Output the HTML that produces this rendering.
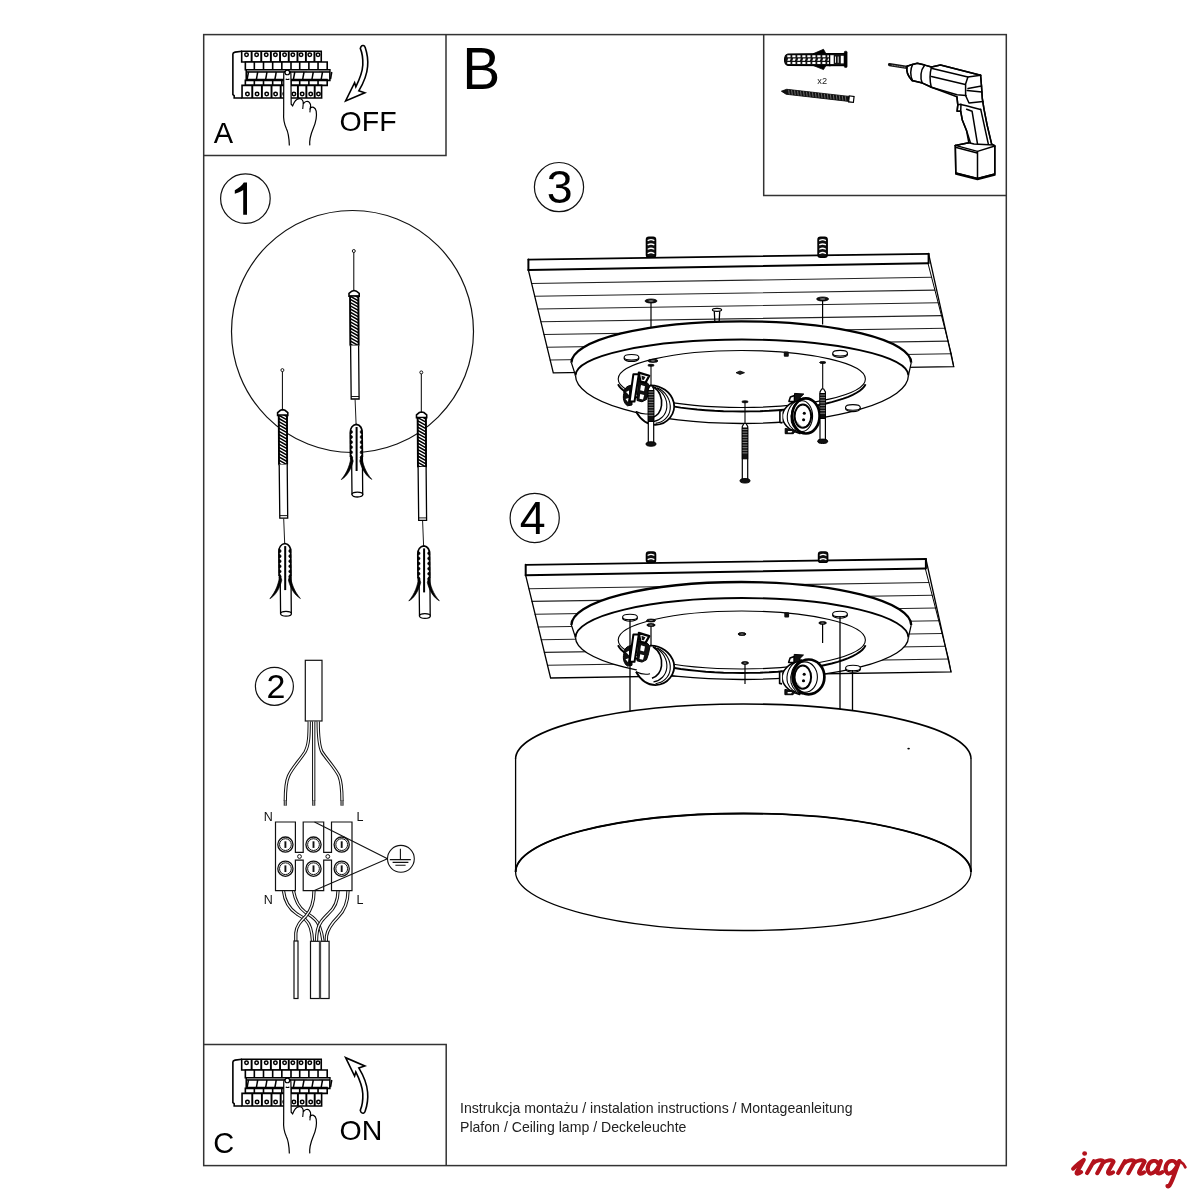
<!DOCTYPE html>
<html><head><meta charset="utf-8"><title>Ceiling lamp instructions</title>
<style>
html,body{margin:0;padding:0;background:#fff;width:1200px;height:1200px;overflow:hidden}
svg{display:block;will-change:transform}
text{font-family:"Liberation Sans",sans-serif}
</style></head><body>
<svg width="1200" height="1200" viewBox="0 0 1200 1200">
<rect x="0" y="0" width="1200" height="1200" fill="#fff"/>
<g fill="none" stroke="#333" stroke-width="1.5">
<rect x="203.7" y="34.6" width="802.6" height="1131"/>
<polyline points="203.7,155.6 446,155.6 446,34.6"/>
<polyline points="203.7,1044.6 446.2,1044.6 446.2,1165.6"/>
<polyline points="763.7,34.6 763.7,195.4 1006.3,195.4"/>
</g>
<g fill="#000">
<text x="213.8" y="142.7" font-size="29">A</text>
<text x="339.6" y="131" font-size="28.5">OFF</text>
<text transform="translate(462.3,88.7) scale(0.965,1)" font-size="59">B</text>
<text x="213.2" y="1152.6" font-size="29">C</text>
<text x="339.6" y="1139.6" font-size="28.5">ON</text>
</g>
<g fill="none" stroke="#111" stroke-width="1.2">
<circle cx="245.4" cy="198.6" r="24.8"/>
<circle cx="559" cy="187.1" r="24.6"/>
<circle cx="534.7" cy="518" r="24.6"/>
<circle cx="274.4" cy="686.3" r="19"/>
</g>
<g fill="#000" text-anchor="middle">
<text x="559.7" y="203.4" font-size="46.5">3</text>
<text x="532.6" y="533.5" font-size="46.5">4</text>
<text x="275.9" y="697.8" font-size="34">2</text>
<path d="M247,182.6 L247,214.8 L243.2,214.8 L243.2,190 C240.5,191.8 237.8,193 234.8,193.8 L234.8,190.2 C238.6,188.4 242,185.5 243.8,182.6 Z"/>
</g>
<g fill="#222" font-size="14.1">
<text x="460" y="1112.5">Instrukcja montażu / instalation instructions / Montageanleitung</text>
<text x="460" y="1131.7">Plafon / Ceiling lamp / Deckeleuchte</text>
</g>
<g transform="translate(225,40) scale(0.091667)"><g id="brk" fill="none" stroke="#000" stroke-width="1.6" vector-effect="non-scaling-stroke">
<path vector-effect="non-scaling-stroke" d="M185,122 L110,132 Q86,137 86,152 L86,596 L100,608 L100,632 L185,632" fill="#fff"/>
<rect vector-effect="non-scaling-stroke" x="182" y="122" width="868" height="118" fill="#fff"/>
<path vector-effect="non-scaling-stroke" d="M286,122 V240 M295,122 V240" stroke-width="1.1"/>
<path vector-effect="non-scaling-stroke" d="M391,122 V240 M400,122 V240" stroke-width="1.1"/>
<path vector-effect="non-scaling-stroke" d="M496,122 V240 M505,122 V240" stroke-width="1.1"/>
<path vector-effect="non-scaling-stroke" d="M596,122 V240 M605,122 V240" stroke-width="1.1"/>
<path vector-effect="non-scaling-stroke" d="M691,122 V240 M700,122 V240" stroke-width="1.1"/>
<path vector-effect="non-scaling-stroke" d="M786,122 V240 M795,122 V240" stroke-width="1.1"/>
<path vector-effect="non-scaling-stroke" d="M878,122 V240 M887,122 V240" stroke-width="1.1"/>
<path vector-effect="non-scaling-stroke" d="M971,122 V240 M980,122 V240" stroke-width="1.1"/>
<circle vector-effect="non-scaling-stroke" cx="235" cy="160" r="19" stroke-width="1.5"/>
<circle vector-effect="non-scaling-stroke" cx="345" cy="160" r="19" stroke-width="1.5"/>
<circle vector-effect="non-scaling-stroke" cx="450" cy="160" r="19" stroke-width="1.5"/>
<circle vector-effect="non-scaling-stroke" cx="550" cy="160" r="19" stroke-width="1.5"/>
<circle vector-effect="non-scaling-stroke" cx="650" cy="160" r="19" stroke-width="1.5"/>
<circle vector-effect="non-scaling-stroke" cx="740" cy="160" r="19" stroke-width="1.5"/>
<circle vector-effect="non-scaling-stroke" cx="830" cy="160" r="19" stroke-width="1.5"/>
<circle vector-effect="non-scaling-stroke" cx="925" cy="160" r="19" stroke-width="1.5"/>
<circle vector-effect="non-scaling-stroke" cx="1015" cy="160" r="19" stroke-width="1.5"/>
<rect vector-effect="non-scaling-stroke" x="222" y="240" width="893" height="85" fill="#fff"/>
<path vector-effect="non-scaling-stroke" d="M320,240 V325"/>
<path vector-effect="non-scaling-stroke" d="M420,240 V325"/>
<path vector-effect="non-scaling-stroke" d="M520,240 V325"/>
<path vector-effect="non-scaling-stroke" d="M620,240 V325"/>
<path vector-effect="non-scaling-stroke" d="M720,240 V325"/>
<path vector-effect="non-scaling-stroke" d="M815,240 V325"/>
<path vector-effect="non-scaling-stroke" d="M915,240 V325"/>
<path vector-effect="non-scaling-stroke" d="M1015,240 V325"/>
<rect vector-effect="non-scaling-stroke" x="232" y="325" width="912" height="115" fill="#fff"/>
<path d="M240,337 H1140" stroke-width="1.2" stroke="#777" stroke-dasharray="60 12" vector-effect="non-scaling-stroke"/>
<path d="M232,349 H1144" stroke-width="1.5" vector-effect="non-scaling-stroke"/>
<path d="M232,433 H1120" stroke-width="2" vector-effect="non-scaling-stroke"/>
<path vector-effect="non-scaling-stroke" d="M256,349 L242,426" stroke-width="1.5"/>
<path vector-effect="non-scaling-stroke" d="M357,349 L343,426" stroke-width="1.5"/>
<path vector-effect="non-scaling-stroke" d="M458,349 L444,426" stroke-width="1.5"/>
<path vector-effect="non-scaling-stroke" d="M559,349 L545,426" stroke-width="1.5"/>
<path vector-effect="non-scaling-stroke" d="M660,349 L646,426" stroke-width="1.5"/>
<path vector-effect="non-scaling-stroke" d="M761,349 L747,426" stroke-width="1.5"/>
<path vector-effect="non-scaling-stroke" d="M862,349 L848,426" stroke-width="1.5"/>
<path vector-effect="non-scaling-stroke" d="M963,349 L949,426" stroke-width="1.5"/>
<path vector-effect="non-scaling-stroke" d="M1064,349 L1050,426" stroke-width="1.5"/>
<path vector-effect="non-scaling-stroke" d="M1165,349 L1151,426" stroke-width="1.5"/>
<rect vector-effect="non-scaling-stroke" x="222" y="440" width="893" height="55" fill="#fff"/>
<path vector-effect="non-scaling-stroke" d="M320,440 V495"/>
<path vector-effect="non-scaling-stroke" d="M420,440 V495"/>
<path vector-effect="non-scaling-stroke" d="M520,440 V495"/>
<path vector-effect="non-scaling-stroke" d="M620,440 V495"/>
<path vector-effect="non-scaling-stroke" d="M720,440 V495"/>
<path vector-effect="non-scaling-stroke" d="M815,440 V495"/>
<path vector-effect="non-scaling-stroke" d="M915,440 V495"/>
<path vector-effect="non-scaling-stroke" d="M1015,440 V495"/>
<rect vector-effect="non-scaling-stroke" x="186" y="495" width="868" height="137" fill="#fff"/>
<path vector-effect="non-scaling-stroke" d="M293,495 V632 M302,495 V632" stroke-width="1.1"/>
<path vector-effect="non-scaling-stroke" d="M398,495 V632 M407,495 V632" stroke-width="1.1"/>
<path vector-effect="non-scaling-stroke" d="M503,495 V632 M512,495 V632" stroke-width="1.1"/>
<path vector-effect="non-scaling-stroke" d="M603,495 V632 M612,495 V632" stroke-width="1.1"/>
<path vector-effect="non-scaling-stroke" d="M698,495 V632 M707,495 V632" stroke-width="1.1"/>
<path vector-effect="non-scaling-stroke" d="M791,495 V632 M800,495 V632" stroke-width="1.1"/>
<path vector-effect="non-scaling-stroke" d="M883,495 V632 M892,495 V632" stroke-width="1.1"/>
<path vector-effect="non-scaling-stroke" d="M974,495 V632 M983,495 V632" stroke-width="1.1"/>
<circle vector-effect="non-scaling-stroke" cx="245" cy="590" r="19" stroke-width="1.5"/>
<circle vector-effect="non-scaling-stroke" cx="350" cy="590" r="19" stroke-width="1.5"/>
<circle vector-effect="non-scaling-stroke" cx="455" cy="590" r="19" stroke-width="1.5"/>
<circle vector-effect="non-scaling-stroke" cx="552" cy="590" r="19" stroke-width="1.5"/>
<circle vector-effect="non-scaling-stroke" cx="652" cy="590" r="19" stroke-width="1.5"/>
<circle vector-effect="non-scaling-stroke" cx="752" cy="590" r="19" stroke-width="1.5"/>
<circle vector-effect="non-scaling-stroke" cx="842" cy="590" r="19" stroke-width="1.5"/>
<circle vector-effect="non-scaling-stroke" cx="935" cy="590" r="19" stroke-width="1.5"/>
<circle vector-effect="non-scaling-stroke" cx="1020" cy="590" r="19" stroke-width="1.5"/>
<path d="M641,372 C641,330 719,330 719,372 L722,700 L738,718 C752,680 782,642 812,640 C842,638 858,668 853,700 C868,668 902,662 920,680 C936,696 936,720 931,742 C950,722 985,732 995,775 C1004,830 990,900 962,965 C938,1022 918,1080 925,1150 L702,1150 C700,1080 692,1010 668,962 C645,910 636,850 640,800 Z" fill="#fff" stroke="none"/>
<path vector-effect="non-scaling-stroke" stroke-width="1.2" d="M641,372 C641,330 719,330 719,372 L722,700 L738,718 C752,680 782,642 812,640 C842,638 858,668 853,700 C868,668 902,662 920,680 C936,696 936,720 931,742 C950,722 985,732 995,775 C1004,830 990,900 962,965 C938,1022 918,1080 925,1150 M702,1150 C700,1080 692,1010 668,962 C645,910 636,850 640,800 L641,372"/>
<circle vector-effect="non-scaling-stroke" cx="680" cy="354" r="25" stroke-width="1.2" fill="#fff"/>
<path vector-effect="non-scaling-stroke" d="M662,425 C675,432 690,432 703,425 M853,700 L848,752 M931,742 L926,790" stroke-width="1.1"/>
</g></g>
<g transform="translate(225,1048) scale(0.091667)"><use href="#brk"/></g>
<path d="M361,46.6 C362.3,44.8 364.6,45.2 365.2,47.6 C367.2,53.5 368.2,60 367.6,66.5 C367,74.5 363.8,82.5 358.8,90.8 L364.8,92.8 L345.6,101 L354.6,82.6 L355.8,86.8 C359.2,80 362.4,73 362.8,65 C363.1,57.5 361.6,51.5 360.3,48.4 Z" fill="#fff" stroke="#000" stroke-width="1.6" stroke-linejoin="miter"/>
<path d="M361,46.6 C362.3,44.8 364.6,45.2 365.2,47.6 C367.2,53.5 368.2,60 367.6,66.5 C367,74.5 363.8,82.5 358.8,90.8 L364.8,92.8 L345.6,101 L354.6,82.6 L355.8,86.8 C359.2,80 362.4,73 362.8,65 C363.1,57.5 361.6,51.5 360.3,48.4 Z" transform="translate(0,1158.7) scale(1,-1)" fill="#fff" stroke="#000" stroke-width="1.6"/>
<circle cx="352.5" cy="331.5" r="121" fill="none" stroke="#111" stroke-width="1.2"/>
<defs><clipPath id="bitclip"><path d="M-3.7,45 L-3.4,94.5 L4.8,94.5 L4.6,45 Z"/></clipPath><g id="bitplug"><circle cx="0" cy="0" r="1.5" fill="#fff" stroke="#000" stroke-width="0.9"/><path d="M0,1.5 V40" stroke="#000" stroke-width="1"/><path d="M-4.8,45.3 L-4.8,42.5 L-2,40.2 L0.3,39.6 L2.6,40.2 L5.4,42.5 L5.4,45.3 Z" fill="#fff" stroke="#000" stroke-width="1.6"/><path d="M-3.7,45 L-3.4,94.5 L4.8,94.5 L4.6,45 Z" fill="#fff" stroke="#000" stroke-width="1.3"/><path d="M-3.5,42.0 L4.6,46.6 M-3.5,45.2 L4.6,49.8 M-3.5,48.4 L4.6,53.0 M-3.5,51.6 L4.6,56.2 M-3.5,54.8 L4.6,59.4 M-3.5,58.0 L4.6,62.6 M-3.5,61.2 L4.6,65.8 M-3.5,64.4 L4.6,69.0 M-3.5,67.6 L4.6,72.2 M-3.5,70.8 L4.6,75.4 M-3.5,74.0 L4.6,78.6 M-3.5,77.2 L4.6,81.8 M-3.5,80.4 L4.6,85.0 M-3.5,83.6 L4.6,88.2 M-3.5,86.8 L4.6,91.4 M-3.5,90.0 L4.6,94.6 M-3.5,93.2 L4.6,97.8" stroke="#000" stroke-width="1.5" clip-path="url(#bitclip)"/><path d="M-3.7,45 L-3.4,94.5 M4.8,94.5 L4.6,45" stroke="#000" stroke-width="1.8"/><path d="M-3.2,94.5 L-2.6,148 L5.3,148 L4.8,94.5" fill="#fff" stroke="#000" stroke-width="1.3"/><path d="M-2.6,145.5 H5.3" stroke="#000" stroke-width="0.9"/><path d="M1.3,148.5 L2.3,173.5" stroke="#000" stroke-width="0.9"/><path d="M-3.5,182 C-3.8,177 -1,174 2.5,173.4 C6,174 8.5,177 8.3,182 L8.6,206 L-3.3,206 Z" fill="#fff" stroke="none"/><path d="M-3.3,206 L-3.5,182 C-3.8,177 -1,174 2.5,173.4 C6,174 8.5,177 8.3,182 L8.6,206" fill="none" stroke="#000" stroke-width="1.7"/><path d="M-3.4,179.2 a2.2,1.75 0 0 1 0,3.5 Z M8.5,179.2 a2.2,1.75 0 0 0 0,3.5 Z M-3.4,184.3 a2.2,1.75 0 0 1 0,3.5 Z M8.5,184.3 a2.2,1.75 0 0 0 0,3.5 Z M-3.4,189.4 a2.2,1.75 0 0 1 0,3.5 Z M8.5,189.4 a2.2,1.75 0 0 0 0,3.5 Z M-3.4,194.5 a2.2,1.75 0 0 1 0,3.5 Z M8.5,194.5 a2.2,1.75 0 0 0 0,3.5 Z M-3.4,199.6 a2.2,1.75 0 0 1 0,3.5 Z M8.5,199.6 a2.2,1.75 0 0 0 0,3.5 Z M-3.4,204.7 a2.2,1.75 0 0 1 0,3.5 Z M8.5,204.7 a2.2,1.75 0 0 0 0,3.5 Z" fill="#000" stroke="#000" stroke-width="0.6"/><path d="M-2.6,204 C-3.4,213 -6.5,221.5 -12.5,228.6 C-7.2,225.6 -2.8,219 -0.6,210 Z" fill="#000" stroke="#000" stroke-width="0.7"/><path d="M7.8,204 C8.6,213 12,221.5 18,228.4 C12.8,225.4 8.2,219 6,210 Z" fill="#000" stroke="#000" stroke-width="0.7"/><path d="M-2.2,206 L-1.8,243.8 M8.6,206 L8.9,243.8" stroke="#000" stroke-width="1.3"/><ellipse cx="3.6" cy="243.6" rx="5.4" ry="2.4" fill="#fff" stroke="#000" stroke-width="1.3"/><path d="M2.8,176 V220" stroke="#000" stroke-width="2"/></g></defs>
<use href="#bitplug" transform="translate(353.8,251)"/>
<use href="#bitplug" transform="translate(282.4,370.1)"/>
<use href="#bitplug" transform="translate(421.3,372.4)"/>
<rect x="305.3" y="660.3" width="16.7" height="60.7" fill="#fff" stroke="#111" stroke-width="1.2"/>
<path d="M309.2,721.5 C309.2,735 309,745 305,752 C300,760 292,768 288.5,776 C285.8,782 285.3,790 285.3,801" fill="none" stroke="#111" stroke-width="3.3"/><path d="M309.2,721.5 C309.2,735 309,745 305,752 C300,760 292,768 288.5,776 C285.8,782 285.3,790 285.3,801" fill="none" stroke="#fff" stroke-width="1.3"/>
<path d="M313.7,721.5 V801" fill="none" stroke="#111" stroke-width="3.3"/><path d="M313.7,721.5 V801" fill="none" stroke="#fff" stroke-width="1.3"/>
<path d="M318.2,721.5 C318.2,735 318.5,745 322,752 C326.5,759 335,768 339,776 C341.5,782 342,790 342,801" fill="none" stroke="#111" stroke-width="3.3"/><path d="M318.2,721.5 C318.2,735 318.5,745 322,752 C326.5,759 335,768 339,776 C341.5,782 342,790 342,801" fill="none" stroke="#fff" stroke-width="1.3"/>
<rect x="283.7" y="800.5" width="3.2" height="5.2" fill="#333"/><path d="M285.3,801 V805.5" stroke="#ddd" stroke-width="0.8"/>
<rect x="312.09999999999997" y="800.5" width="3.2" height="5.2" fill="#333"/><path d="M313.7,801 V805.5" stroke="#ddd" stroke-width="0.8"/>
<rect x="340.4" y="800.5" width="3.2" height="5.2" fill="#333"/><path d="M342,801 V805.5" stroke="#ddd" stroke-width="0.8"/>
<g fill="#111" font-size="12.5"><text x="263.8" y="821.3">N</text><text x="356.6" y="821.3">L</text><text x="263.8" y="903.6">N</text><text x="356.6" y="903.6">L</text></g>
<path d="M283.5,891 C284.5,900 288,908 297,914 C303,917.5 308,920 310.5,928 C312,933 312.3,937 312.5,941" fill="none" stroke="#111" stroke-width="3.3"/><path d="M283.5,891 C284.5,900 288,908 297,914 C303,917.5 308,920 310.5,928 C312,933 312.3,937 312.5,941" fill="none" stroke="#fff" stroke-width="1.3"/>
<path d="M293.5,891 C295,899 298,907 305,912 C310,915.5 316,918 319,925 C321,930 322.5,936 323,941" fill="none" stroke="#111" stroke-width="3.3"/><path d="M293.5,891 C295,899 298,907 305,912 C310,915.5 316,918 319,925 C321,930 322.5,936 323,941" fill="none" stroke="#fff" stroke-width="1.3"/>
<path d="M314,891 C314,900 312,909 306,916 C300,922 296.5,926 295.8,933 L295.8,941" fill="none" stroke="#111" stroke-width="3.3"/><path d="M314,891 C314,900 312,909 306,916 C300,922 296.5,926 295.8,933 L295.8,941" fill="none" stroke="#fff" stroke-width="1.3"/>
<path d="M338,891 C338,900 335,908 328,914 C323,919 319,923 317.5,930 C316.8,934 316.5,938 316.5,941" fill="none" stroke="#111" stroke-width="3.3"/><path d="M338,891 C338,900 335,908 328,914 C323,919 319,923 317.5,930 C316.8,934 316.5,938 316.5,941" fill="none" stroke="#fff" stroke-width="1.3"/>
<path d="M348,891 C348,902 345,910 338,917 C332,923 327.5,930 326.5,936 L326.3,941" fill="none" stroke="#111" stroke-width="3.3"/><path d="M348,891 C348,902 345,910 338,917 C332,923 327.5,930 326.5,936 L326.3,941" fill="none" stroke="#fff" stroke-width="1.3"/>
<g fill="none" stroke="#111" stroke-width="1.2"><path d="M275.5,822 H295.4 V852.4 H303.2 V822 H323.7 V852.4 H331.5 V822 H352 V890.7 H331.5 V860.2 H323.7 V890.7 H303.2 V860.2 H295.4 V890.7 H275.5 Z" fill="#fff"/><circle cx="285.4" cy="844.6" r="7.6" stroke-width="1.3"/><circle cx="285.4" cy="844.6" r="5.9" stroke-width="1"/><path d="M285.4,841.3000000000001 V847.9" stroke-width="1.9"/><circle cx="285.4" cy="868.7" r="7.6" stroke-width="1.3"/><circle cx="285.4" cy="868.7" r="5.9" stroke-width="1"/><path d="M285.4,865.4000000000001 V872.0" stroke-width="1.9"/><circle cx="313.5" cy="844.6" r="7.6" stroke-width="1.3"/><circle cx="313.5" cy="844.6" r="5.9" stroke-width="1"/><path d="M313.5,841.3000000000001 V847.9" stroke-width="1.9"/><circle cx="313.5" cy="868.7" r="7.6" stroke-width="1.3"/><circle cx="313.5" cy="868.7" r="5.9" stroke-width="1"/><path d="M313.5,865.4000000000001 V872.0" stroke-width="1.9"/><circle cx="341.7" cy="844.6" r="7.6" stroke-width="1.3"/><circle cx="341.7" cy="844.6" r="5.9" stroke-width="1"/><path d="M341.7,841.3000000000001 V847.9" stroke-width="1.9"/><circle cx="341.7" cy="868.7" r="7.6" stroke-width="1.3"/><circle cx="341.7" cy="868.7" r="5.9" stroke-width="1"/><path d="M341.7,865.4000000000001 V872.0" stroke-width="1.9"/><circle cx="299.5" cy="856.5" r="1.9" stroke-width="1"/><circle cx="327.8" cy="856.5" r="1.9" stroke-width="1"/><path d="M314.5,822 L387.5,858.8 L313.8,890.7" stroke-width="1.1"/><circle cx="400.9" cy="858.8" r="13.4" fill="#fff" stroke-width="1.1"/><path d="M400.4,848.8 V859.6 M389.8,859.6 H410.8 M392.6,862.4 H408.4 M395.4,865.2 H405.6" stroke-width="1.1"/></g>
<g fill="#fff" stroke="#111" stroke-width="1.2"><rect x="294" y="941" width="4" height="57.5"/><rect x="310.5" y="941.3" width="9" height="57.2"/><rect x="320.5" y="941.3" width="8.6" height="57.2"/><path d="M320,941.3 V998.5" stroke-width="1.6" stroke="#555"/></g>
<g stroke="#000">
<path d="M788,54 C783.5,55.2 783.3,64.2 788,65.4 L830,65.6 L830,53.6 Z" fill="#111" stroke-width="1.2"/>
<path d="M787.3,55.3 h3.2 v2 h-3.2 Z M787.3,61.9 h3.2 v2 h-3.2 Z M788.2,58.4 l2.6,0 l-0.9,2.4 l-2.6,0 Z M792.3,55.3 h3.2 v2 h-3.2 Z M792.3,61.9 h3.2 v2 h-3.2 Z M793.2,58.4 l2.6,0 l-0.9,2.4 l-2.6,0 Z M797.3,55.3 h3.2 v2 h-3.2 Z M797.3,61.9 h3.2 v2 h-3.2 Z M798.2,58.4 l2.6,0 l-0.9,2.4 l-2.6,0 Z M802.3,55.3 h3.2 v2 h-3.2 Z M802.3,61.9 h3.2 v2 h-3.2 Z M803.2,58.4 l2.6,0 l-0.9,2.4 l-2.6,0 Z M807.3,55.3 h3.2 v2 h-3.2 Z M807.3,61.9 h3.2 v2 h-3.2 Z M808.2,58.4 l2.6,0 l-0.9,2.4 l-2.6,0 Z M812.3,55.3 h3.2 v2 h-3.2 Z M812.3,61.9 h3.2 v2 h-3.2 Z M813.2,58.4 l2.6,0 l-0.9,2.4 l-2.6,0 Z M817.3,55.3 h3.2 v2 h-3.2 Z M817.3,61.9 h3.2 v2 h-3.2 Z M818.2,58.4 l2.6,0 l-0.9,2.4 l-2.6,0 Z M822.3,55.3 h3.2 v2 h-3.2 Z M822.3,61.9 h3.2 v2 h-3.2 Z M823.2,58.4 l2.6,0 l-0.9,2.4 l-2.6,0 Z M827.3,55.3 h3.2 v2 h-3.2 Z M827.3,61.9 h3.2 v2 h-3.2 Z M828.2,58.4 l2.6,0 l-0.9,2.4 l-2.6,0 Z" fill="#fff" stroke="none"/>
<path d="M813,53.8 L823.5,49.3 L826,53.8 Z M813,65.4 L823.5,69.6 L826,65.4 Z" fill="#000" stroke-width="0.8"/>
<rect x="829.5" y="53.6" width="15" height="12" fill="#111" stroke-width="1.2"/>
<rect x="830.3" y="55.2" width="3.4" height="8.8" fill="#fff" stroke="none"/>
<rect x="840.8" y="55.8" width="3" height="7.6" fill="#fff" stroke="none"/>
<path d="M835.5,56.5 V62.8 M838.2,56.5 V62.8" stroke="#fff" stroke-width="0.9"/>
<rect x="844.3" y="51.2" width="2.8" height="16.3" rx="1" fill="#000" stroke-width="0.6"/>
</g>
<text x="817.3" y="83.6" font-size="9.2" fill="#222">x2</text>
<g transform="translate(781.4,91.2) rotate(6.5)" stroke="#000">
<path d="M0,0 L5,-2.5 L68,-2.5 L68,2.5 L5,2.5 Z" fill="#111" stroke-width="0.8"/>
<path d="M7,-2.3 l1.2,4.6 M10,-2.3 l1.2,4.6 M13,-2.3 l1.2,4.6 M16,-2.3 l1.2,4.6 M19,-2.3 l1.2,4.6 M22,-2.3 l1.2,4.6 M25,-2.3 l1.2,4.6 M28,-2.3 l1.2,4.6 M31,-2.3 l1.2,4.6 M34,-2.3 l1.2,4.6 M37,-2.3 l1.2,4.6 M40,-2.3 l1.2,4.6 M43,-2.3 l1.2,4.6 M46,-2.3 l1.2,4.6 M49,-2.3 l1.2,4.6 M52,-2.3 l1.2,4.6 M55,-2.3 l1.2,4.6 M58,-2.3 l1.2,4.6 M61,-2.3 l1.2,4.6 M64,-2.3 l1.2,4.6" stroke="#888" stroke-width="0.7"/>
<rect x="68" y="-3" width="4.8" height="6" fill="#fff" stroke-width="1.2"/>
</g>
<g fill="none" stroke="#000" stroke-width="1.5" stroke-linejoin="round" stroke-linecap="round">
<path d="M889.5,64.6 L907,67.3" stroke="#111" stroke-width="3.2"/>
<path d="M892,65.2 L905,67.2" stroke="#bbb" stroke-width="0.6" stroke-dasharray="1.2 1.2"/>
<path d="M907.1,66.3 L912.4,64.4 L917.3,63.2 L924.8,65.1 L931.5,67 L940.5,65.1 L980.6,75.3 L981.5,86 L982.3,98.3 L984,109.2 L987.2,125.4 L991.6,143.8 L994.8,146 L994.8,174.1 L977.5,178.5 L955.8,173 L955.3,145.4 L968.8,142.7 L966.6,130.8 L962.3,120 L960.7,111.3 L957.1,111.3 L957.8,104.8 L956.9,96.7 L931.5,87.3 L922.5,83.1 L912,80.5 C908,76 906,71 907.1,66.3 Z" fill="#fff"/>
<path d="M907.1,66.3 L912.4,64.4 L917.3,63.2 L924.8,65.1 L931.5,67"/>
<path d="M907.1,66.3 C906,71 908,76 912,80.5 L922.5,83.1 L931.5,87.3"/>
<path d="M912.6,64.6 C910.2,69 910,76 912.6,80.6"/>
<path d="M924.6,65.2 C920.5,70 920,78 922.2,83"/>
<path d="M931.5,67 C929.8,73 929.6,80 931.2,87"/>
<path d="M931.5,67 L940.5,65.1 L980.6,75.3"/>
<path d="M932.3,68.5 L967.9,77.1 L980.6,75.3"/>
<path d="M931.5,76.4 L965.3,84.6"/>
<path d="M931.2,87.2 L957,94.8 L966,95.5"/>
<path d="M967.9,77.1 L965.6,84 L965.6,95.5"/>
<path d="M980.6,75.3 L981.5,86 L968,88.5"/>
<path d="M967.2,90.5 L981.8,92"/>
<path d="M965.6,95.5 L969,103 L983,101.5"/>
<path d="M956.9,96.7 L957.8,104.8 L957.1,111.3 L960.7,111.3 L962.3,120 L966.6,130.8 L970.4,142.7"/>
<path d="M957.8,104.8 L961,104.2 L960.7,111.3"/>
<path d="M960.8,104.5 L966.4,105.8 L972.8,107.5 L980.5,109.5"/>
<path d="M966.6,109.2 L972.1,111.3 L977.5,143.8"/>
<path d="M981.5,86 L982.3,98.3 L984,109.2 L987.2,125.4 L991.6,143.8"/>
<path d="M980.7,109.2 L988.3,143.8"/>
<path d="M955.3,145.4 L968.8,142.7 L974,144 L993.7,144.9 L994.8,146"/>
<path d="M955.3,145.4 L977.5,151.4 L994.8,146"/>
<path d="M956.3,147.5 L977.2,153"/>
<path d="M955.3,145.4 L955.8,173 L977.5,178.5 L994.8,174.1 L994.8,146"/>
<path d="M977.5,151.4 L977.5,178.5"/>
<path d="M955.8,173.8 L977.5,179.3 L994.8,174.9" stroke-width="1.8"/>
</g>
<g transform="translate(0,0)" fill="none" stroke="#000" stroke-linecap="round"><path d="M528.4,259.6 L928.6,253.8 L953.7,366.6 L553.3,372.8 Z" fill="#fff" stroke="none"/><path d="M531.6,283.5 L931.6,277.3 M534.7,296.2 L934.9,290.1 M537.8,309.0 L938.2,302.8 M540.9,321.8 L941.5,315.6 M544.0,334.5 L944.7,328.3 M547.1,347.2 L948.0,341.1 M550.2,360.0 L951.3,353.8" stroke-width="1.1" stroke="#222"/><path d="M528.4,259.6 L928.6,253.8" stroke-width="1.8"/><path d="M528.4,270.1 L928,263.3" stroke-width="2"/><path d="M528.4,259.6 V270.1 M928.6,253.8 V263.3" stroke-width="2"/><path d="M528.4,270.1 L553.3,372.8 L953.7,366.6 L928.6,253.8" stroke-width="1.3"/><path d="M928,263.3 L951.3,353.8 L953.7,366.6" stroke-width="1"/><rect x="646.4" y="237.2" width="9.2" height="20" rx="2.5" fill="#111" stroke-width="1.4"/><path d="M648.2,240.4 Q651,238.9 653.8,240.4 M648.2,244.7 Q651,243.2 653.8,244.7 M648.2,249.0 Q651,247.5 653.8,249.0 M648.2,253.3 Q651,251.8 653.8,253.3" stroke="#fff" stroke-width="1.4"/><rect x="818.0" y="237.2" width="9.2" height="20" rx="2.5" fill="#111" stroke-width="1.4"/><path d="M819.8000000000001,240.4 Q822.6,238.9 825.4,240.4 M819.8000000000001,244.7 Q822.6,243.2 825.4,244.7 M819.8000000000001,249.0 Q822.6,247.5 825.4,249.0 M819.8000000000001,253.3 Q822.6,251.8 825.4,253.3" stroke="#fff" stroke-width="1.4"/></g>
<g fill="none" stroke="#000"><path d="M571.4,362.8 A169.9,41.5 0 0 1 911.2,362.8 L908.4,375.5 A166.45,48 0 0 1 575.5,375.5 Z" fill="#fff" stroke="none"/><path d="M571.4,362.8 A169.9,41.5 0 0 1 911.2,362.8" stroke-width="2.3"/><path d="M571.4,362.8 L575.5,375.5 M911.2,362.8 L908.4,375.5" stroke-width="1.2"/><path d="M575.5,375.5 A166.45,36 0 0 1 908.4,375.5" stroke-width="1.8"/><path d="M908.4,375.5 A166.45,48 0 0 1 575.5,375.5" stroke-width="1.3"/><ellipse cx="741.8" cy="379" rx="123.6" ry="28.5" stroke-width="1.1"/><path d="M865.6,384.2 L864.3,386.4 L862.4,388.6 L859.8,390.7 L856.6,392.8 L852.7,394.8 L848.3,396.8 L843.3,398.7 L837.7,400.4 L831.7,402.1 L825.1,403.7 L818.1,405.1 L810.7,406.4 L802.9,407.6 L794.8,408.6 L786.4,409.5 L777.8,410.2 L769.0,410.8 L760.0,411.2 L750.9,411.4 L741.8,411.5 L732.7,411.4 L723.6,411.2 L714.6,410.8 L705.8,410.2 L697.2,409.5 L688.8,408.6 L680.7,407.6 L672.9,406.4 L665.5,405.1 L658.5,403.7 L651.9,402.1 L645.9,400.4 L640.3,398.7 L635.3,396.8 L630.9,394.8 L627.0,392.8 L623.8,390.7 L621.2,388.6 L619.3,386.4 L618.0,384.2" stroke-width="1.9"/></g>
<ellipse cx="651" cy="301" rx="6" ry="2" fill="#111" stroke="#000" stroke-width="0.8"/><ellipse cx="651" cy="301" rx="2.7" ry="0.8" fill="#888"/><path d="M651,303 V327" stroke="#000" stroke-width="1.2"/>
<ellipse cx="822.6" cy="299" rx="6" ry="2" fill="#111" stroke="#000" stroke-width="0.8"/><ellipse cx="822.6" cy="299" rx="2.7" ry="0.8" fill="#888"/><path d="M822.6,301 V324.5" stroke="#000" stroke-width="1.2"/>
<path d="M714.2,309.8 L714.8,321 M719.8,309.8 L719.2,321" stroke="#000" stroke-width="1.3"/><ellipse cx="717" cy="309.8" rx="4.6" ry="1.5" fill="#fff" stroke="#000" stroke-width="1.2"/>
<ellipse cx="631.5" cy="358.5" rx="7.4" ry="3" fill="#fff" stroke="#000" stroke-width="1.1"/><ellipse cx="631.5" cy="357.3" rx="7.4" ry="2.8" fill="#fff" stroke="#000" stroke-width="1.1"/><ellipse cx="840.1" cy="354.4" rx="7.4" ry="3" fill="#fff" stroke="#000" stroke-width="1.1"/><ellipse cx="840.1" cy="353.2" rx="7.4" ry="2.8" fill="#fff" stroke="#000" stroke-width="1.1"/><ellipse cx="852.9" cy="408.59999999999997" rx="7.4" ry="3" fill="#fff" stroke="#000" stroke-width="1.1"/><ellipse cx="852.9" cy="407.4" rx="7.4" ry="2.8" fill="#fff" stroke="#000" stroke-width="1.1"/>
<ellipse cx="653" cy="360.8" rx="5" ry="1.6" fill="#111" stroke="#000" stroke-width="0.8"/><ellipse cx="653" cy="360.8" rx="2.25" ry="0.6400000000000001" fill="#888"/>
<path d="M736,372.7 L740,371 L744.5,372.7 L740,374.4 Z" fill="#222" stroke="#000" stroke-width="0.8"/>
<rect x="783.8" y="351.5" width="5" height="5.2" rx="1" fill="#111"/>
<g transform="translate(0,0)" stroke="#000" fill="#fff" stroke-linejoin="round"><path d="M650,385.3 C661,385 671,392 673.8,402.5 C676,413 668,424.6 655.5,424.8 C647.5,424.8 640.5,419.5 636,411.5 L643,394 Z" stroke="none"/><path d="M650,385.3 C661,385 671,392 673.8,402.5 C676,413 668,424.6 655.5,424.8 C647.5,424.8 640.5,419.5 636,411.5" fill="none" stroke-width="1.8"/><path d="M657,387.8 C666,391.5 671,400 670.2,409 C669.4,417 663,422.6 655.5,423.4" fill="none" stroke-width="1.1"/><path d="M655,387.2 C663,391 667.5,399.5 666.8,407.5 C666,415 660.5,420.5 653.5,421.6" fill="none" stroke-width="1.1"/><path d="M653,386.5 C659.5,390.5 662.5,398 661.5,405.5 C660.8,411.5 657,416 652,418" fill="none" stroke-width="1.6"/><path d="M636,411.5 C641,414 646,414.5 650,413.5" fill="none" stroke-width="1.1"/><path d="M631.5,385.2 C627,385.5 623.6,389 623.8,393.5 C622.6,398 623.8,403.5 627.5,405.8 L632,405 L632,386 Z" fill="#111" stroke-width="1"/><path d="M626,392 L629,390.5 L629,395 Z M625.5,399 L628.5,398 L628,402 Z" fill="#fff" stroke="none"/><path d="M638.5,380.5 L647,382.5 L650,386 L648.5,393.5 L646.5,399.5 L642,401.8 L637,400.5 Z" fill="#111" stroke-width="1"/><path d="M641,385 L645,386.2 L644,391.2 L640.2,390.2 Z M640.2,394 L644.2,395 L643,399.5 L639.5,398.8 Z" fill="#fff" stroke="none"/><path d="M638.8,372.6 L649.3,375.8 L645.5,382.6 L640.5,381.6 Z" stroke-width="2.2"/><path d="M641.5,375.5 L645.5,377 L643.8,380 L641.8,379.6 Z" fill="#111" stroke="none"/><path d="M633.4,374.2 L638.8,374.2 L634.5,401.5 L629.6,401.5 Z" stroke-width="2"/></g>
<g transform="translate(805.9,415.9)" stroke="#000" fill="#fff" stroke-linejoin="round"><path d="M-4,-16.8 C-14,-15 -22,-9 -23.5,-1 C-24,7 -18,14.5 -6,17.6 Z" stroke-width="1.6"/><path d="M-23.5,-5.5 L-26,-5 L-26,6.5 L-23.5,7" stroke-width="1.6"/><path d="M-9,-15.5 C-17,-11 -20,-2 -18,6 C-16,11.5 -11,15.5 -5,17" fill="none" stroke-width="1.1"/><path d="M-6,-16 C-13,-11 -16,-2 -14.5,6 C-13,11.5 -9,15.5 -3,17.2" fill="none" stroke-width="1.1"/><path d="M-17,-14.5 L-15.5,-19 L-11.4,-20.5 L-11.4,-14.3 Z" stroke-width="1.6"/><path d="M-11.4,-22.5 L-2.1,-21.9 L-5.6,-18.5 L-5.6,-15.5 L-11.4,-14.3 Z" fill="#111" stroke-width="1"/><path d="M-20.7,12.5 L-20.7,17.8 L-12.6,17.8 L-10,14.5 Z" fill="#111" stroke-width="1"/><path d="M-18,15 L-13.5,15.2 L-14.5,16.6 L-18,16.6 Z" fill="#fff" stroke="none"/><ellipse cx="0" cy="0" rx="13.7" ry="17.6" stroke-width="2.7"/><ellipse cx="-3.8" cy="0.2" rx="10.5" ry="15.400000000000002" fill="none" stroke-width="1.1"/><g transform="translate(0,0)"><ellipse cx="-3" cy="0.3" rx="8.3" ry="11.6" stroke-width="2"/><path d="M-8.5,6 C-7,9 -5,10.5 -3,11" fill="none" stroke="#999" stroke-width="0.8"/><circle cx="-1.6" cy="-2.6" r="1.55" fill="#000" stroke="none"/><circle cx="-2.3" cy="3.8" r="1.55" fill="#000" stroke="none"/></g></g>
<g stroke="#000"><ellipse cx="651" cy="365.3" rx="3.2" ry="1" fill="#111" stroke-width="0.8"/><path d="M651,365.3 V386" stroke-width="1.1"/><path d="M650,386 L648.3,389 L648.3,443 L653.7,443 L653.7,389 L652,386 Z" fill="#fff" stroke-width="1.2"/><rect x="648.3" y="390.5" width="5.4" height="31.0" fill="#111" stroke-width="1"/><path d="M648.5,392.0 H653.5 M648.5,394.6 H653.5 M648.5,397.2 H653.5 M648.5,399.8 H653.5 M648.5,402.4 H653.5 M648.5,405.0 H653.5 M648.5,407.6 H653.5 M648.5,410.2 H653.5 M648.5,412.8 H653.5 M648.5,415.4 H653.5" stroke="#ccc" stroke-width="0.6"/><ellipse cx="651" cy="444" rx="5" ry="2.2" fill="#111" stroke-width="1"/></g>
<g stroke="#000"><ellipse cx="745" cy="401.8" rx="3.2" ry="1" fill="#111" stroke-width="0.8"/><path d="M745,401.8 V423.5" stroke-width="1.1"/><path d="M744,423.5 L742.3,426.5 L742.3,479.8 L747.7,479.8 L747.7,426.5 L746,423.5 Z" fill="#fff" stroke-width="1.2"/><rect x="742.3" y="428.0" width="5.4" height="30.80000000000001" fill="#111" stroke-width="1"/><path d="M742.5,429.5 H747.5 M742.5,432.1 H747.5 M742.5,434.7 H747.5 M742.5,437.3 H747.5 M742.5,439.9 H747.5 M742.5,442.5 H747.5 M742.5,445.1 H747.5 M742.5,447.7 H747.5 M742.5,450.3 H747.5 M742.5,452.9 H747.5" stroke="#ccc" stroke-width="0.6"/><ellipse cx="745" cy="480.8" rx="5" ry="2.2" fill="#111" stroke-width="1"/></g>
<g stroke="#000"><ellipse cx="822.7" cy="362.5" rx="3.2" ry="1" fill="#111" stroke-width="0.8"/><path d="M822.7,362.5 V389" stroke-width="1.1"/><path d="M821.7,389 L820.0,392 L820.0,440.3 L825.4000000000001,440.3 L825.4000000000001,392 L823.7,389 Z" fill="#fff" stroke-width="1.2"/><rect x="820.0" y="393.5" width="5.4" height="25.0" fill="#111" stroke-width="1"/><path d="M820.2,395.0 H825.2 M820.2,397.6 H825.2 M820.2,400.2 H825.2 M820.2,402.8 H825.2 M820.2,405.4 H825.2 M820.2,408.0 H825.2 M820.2,410.6 H825.2 M820.2,413.2 H825.2" stroke="#ccc" stroke-width="0.6"/><ellipse cx="822.7" cy="441.3" rx="5" ry="2.2" fill="#111" stroke-width="1"/></g>
<g transform="translate(-2.7,305.2)" fill="none" stroke="#000" stroke-linecap="round"><path d="M528.4,259.6 L928.6,253.8 L953.7,366.6 L553.3,372.8 Z" fill="#fff" stroke="none"/><path d="M531.6,283.5 L931.6,277.3 M534.7,296.2 L934.9,290.1 M537.8,309.0 L938.2,302.8 M540.9,321.8 L941.5,315.6 M544.0,334.5 L944.7,328.3 M547.1,347.2 L948.0,341.1 M550.2,360.0 L951.3,353.8" stroke-width="1.1" stroke="#222"/><path d="M528.4,259.6 L928.6,253.8" stroke-width="1.8"/><path d="M528.4,270.1 L928,263.3" stroke-width="2"/><path d="M528.4,259.6 V270.1 M928.6,253.8 V263.3" stroke-width="2"/><path d="M528.4,270.1 L553.3,372.8 L953.7,366.6 L928.6,253.8" stroke-width="1.3"/><path d="M928,263.3 L951.3,353.8 L953.7,366.6" stroke-width="1"/><rect x="649.1" y="246.7" width="9.2" height="10.5" rx="2.5" fill="#111" stroke-width="1.4"/><path d="M650.9000000000001,249.9 Q653.7,248.4 656.5,249.9 M650.9000000000001,254.2 Q653.7,252.7 656.5,254.2" stroke="#fff" stroke-width="1.4"/><rect x="821.1999999999999" y="246.7" width="9.2" height="10.5" rx="2.5" fill="#111" stroke-width="1.4"/><path d="M823.0,249.9 Q825.8,248.4 828.5999999999999,249.9 M823.0,254.2 Q825.8,252.7 828.5999999999999,254.2" stroke="#fff" stroke-width="1.4"/></g>
<g transform="translate(0,0)"><g fill="none" stroke="#000"><path d="M571.4,625 A169.9,43 0 0 1 911.2,625 L908.4,637.5 A166.45,42 0 0 1 575.5,637.5 Z" fill="#fff" stroke="none"/><path d="M571.4,625 A169.9,43 0 0 1 911.2,625" stroke-width="2.3"/><path d="M571.4,625 L575.5,637.5 M911.2,625 L908.4,637.5" stroke-width="1.2"/><path d="M575.5,637.5 A166.45,39.5 0 0 1 908.4,637.5" stroke-width="1.8"/><path d="M908.4,637.5 A166.45,42 0 0 1 575.5,637.5" stroke-width="1.3"/><ellipse cx="741.8" cy="640" rx="123.6" ry="29" stroke-width="1.1"/><path d="M865.6,645.2 L864.3,647.5 L862.4,649.7 L859.8,651.9 L856.6,654.0 L852.7,656.1 L848.3,658.1 L843.3,660.0 L837.7,661.8 L831.7,663.5 L825.1,665.0 L818.1,666.5 L810.7,667.8 L802.9,669.0 L794.8,670.0 L786.4,670.9 L777.8,671.7 L769.0,672.3 L760.0,672.7 L750.9,672.9 L741.8,673.0 L732.7,672.9 L723.6,672.7 L714.6,672.3 L705.8,671.7 L697.2,670.9 L688.8,670.0 L680.7,669.0 L672.9,667.8 L665.5,666.5 L658.5,665.0 L651.9,663.5 L645.9,661.8 L640.3,660.0 L635.3,658.1 L630.9,656.1 L627.0,654.0 L623.8,651.9 L621.2,649.7 L619.3,647.5 L618.0,645.2" stroke-width="1.9"/></g></g>
<ellipse cx="630" cy="618.2" rx="7.4" ry="3" fill="#fff" stroke="#000" stroke-width="1.1"/><ellipse cx="630" cy="617" rx="7.4" ry="2.8" fill="#fff" stroke="#000" stroke-width="1.1"/><ellipse cx="840" cy="615.2" rx="7.4" ry="3" fill="#fff" stroke="#000" stroke-width="1.1"/><ellipse cx="840" cy="614" rx="7.4" ry="2.8" fill="#fff" stroke="#000" stroke-width="1.1"/><ellipse cx="853" cy="669.2" rx="7.4" ry="3" fill="#fff" stroke="#000" stroke-width="1.1"/><ellipse cx="853" cy="668" rx="7.4" ry="2.8" fill="#fff" stroke="#000" stroke-width="1.1"/>
<ellipse cx="651" cy="620.5" rx="4.5" ry="1.5" fill="#111" stroke="#000" stroke-width="0.8"/><ellipse cx="651" cy="620.5" rx="2.025" ry="0.6000000000000001" fill="#888"/><ellipse cx="651" cy="625" rx="4.2" ry="1.5" fill="#111" stroke="#000" stroke-width="0.8"/><ellipse cx="651" cy="625" rx="1.8900000000000001" ry="0.6000000000000001" fill="#888"/><path d="M651,626.5 V646" stroke="#000" stroke-width="1.2"/>
<ellipse cx="742" cy="634" rx="4" ry="1.5" fill="#111" stroke="#000" stroke-width="0.8"/><ellipse cx="742" cy="634" rx="1.8" ry="0.6000000000000001" fill="#888"/>
<ellipse cx="745" cy="663" rx="3.5" ry="1.4" fill="#111" stroke="#000" stroke-width="0.8"/><ellipse cx="745" cy="663" rx="1.575" ry="0.5599999999999999" fill="#888"/><path d="M745,664 V684" stroke="#000" stroke-width="1.2"/>
<ellipse cx="822.6" cy="623" rx="3.8" ry="1.4" fill="#111" stroke="#000" stroke-width="0.8"/><ellipse cx="822.6" cy="623" rx="1.71" ry="0.5599999999999999" fill="#888"/><path d="M822.6,624 V643" stroke="#000" stroke-width="1.2"/>
<rect x="784.3" y="612.2" width="4.8" height="5.4" rx="1" fill="#111"/>
<g transform="translate(0,260.3)" stroke="#000" fill="#fff" stroke-linejoin="round"><path d="M650,385.3 C661,385 671,392 673.8,402.5 C676,413 668,424.6 655.5,424.8 C647.5,424.8 640.5,419.5 636,411.5 L643,394 Z" stroke="none"/><path d="M650,385.3 C661,385 671,392 673.8,402.5 C676,413 668,424.6 655.5,424.8 C647.5,424.8 640.5,419.5 636,411.5" fill="none" stroke-width="1.8"/><path d="M657,387.8 C666,391.5 671,400 670.2,409 C669.4,417 663,422.6 655.5,423.4" fill="none" stroke-width="1.1"/><path d="M655,387.2 C663,391 667.5,399.5 666.8,407.5 C666,415 660.5,420.5 653.5,421.6" fill="none" stroke-width="1.1"/><path d="M653,386.5 C659.5,390.5 662.5,398 661.5,405.5 C660.8,411.5 657,416 652,418" fill="none" stroke-width="1.6"/><path d="M636,411.5 C641,414 646,414.5 650,413.5" fill="none" stroke-width="1.1"/><path d="M631.5,385.2 C627,385.5 623.6,389 623.8,393.5 C622.6,398 623.8,403.5 627.5,405.8 L632,405 L632,386 Z" fill="#111" stroke-width="1"/><path d="M626,392 L629,390.5 L629,395 Z M625.5,399 L628.5,398 L628,402 Z" fill="#fff" stroke="none"/><path d="M638.5,380.5 L647,382.5 L650,386 L648.5,393.5 L646.5,399.5 L642,401.8 L637,400.5 Z" fill="#111" stroke-width="1"/><path d="M641,385 L645,386.2 L644,391.2 L640.2,390.2 Z M640.2,394 L644.2,395 L643,399.5 L639.5,398.8 Z" fill="#fff" stroke="none"/><path d="M638.8,372.6 L649.3,375.8 L645.5,382.6 L640.5,381.6 Z" stroke-width="2.2"/><path d="M641.5,375.5 L645.5,377 L643.8,380 L641.8,379.6 Z" fill="#111" stroke="none"/><path d="M633.4,374.2 L638.8,374.2 L634.5,401.5 L629.6,401.5 Z" stroke-width="2"/></g>
<g transform="translate(808.6,676.9)" stroke="#000" fill="#fff" stroke-linejoin="round"><path d="M-7,-16.8 C-17,-15 -25,-9 -26.5,-1 C-27,7 -21,14.5 -9,17.6 Z" stroke-width="1.6"/><path d="M-26.5,-5.5 L-29,-5 L-29,6.5 L-26.5,7" stroke-width="1.6"/><path d="M-12,-15.5 C-20,-11 -23,-2 -21,6 C-19,11.5 -14,15.5 -8,17" fill="none" stroke-width="1.1"/><path d="M-9,-16 C-16,-11 -19,-2 -17.5,6 C-16,11.5 -12,15.5 -6,17.2" fill="none" stroke-width="1.1"/><path d="M-20,-14.5 L-18.5,-19 L-14.4,-20.5 L-14.4,-14.3 Z" stroke-width="1.6"/><path d="M-14.4,-22.5 L-5.1,-21.9 L-8.6,-18.5 L-8.6,-15.5 L-14.4,-14.3 Z" fill="#111" stroke-width="1"/><path d="M-23.7,12.5 L-23.7,17.8 L-15.6,17.8 L-13,14.5 Z" fill="#111" stroke-width="1"/><path d="M-21,15 L-16.5,15.2 L-17.5,16.6 L-21,16.6 Z" fill="#fff" stroke="none"/><ellipse cx="0" cy="0" rx="15.8" ry="17.4" stroke-width="2.7"/><ellipse cx="-3.8" cy="0.2" rx="12.600000000000001" ry="15.2" fill="none" stroke-width="1.1"/><g transform="translate(-2.8,0)"><ellipse cx="-3" cy="0.3" rx="8.3" ry="11.6" stroke-width="2"/><path d="M-8.5,6 C-7,9 -5,10.5 -3,11" fill="none" stroke="#999" stroke-width="0.8"/><circle cx="-1.6" cy="-2.6" r="1.55" fill="#000" stroke="none"/><circle cx="-2.3" cy="3.8" r="1.55" fill="#000" stroke="none"/></g></g>
<path d="M630,619 V712.5 M840,616 V709.6 M852.5,670 V710" stroke="#000" stroke-width="1.3"/>
<path d="M515.5999999999999,759 A227.7,55 0 0 1 971.0,759 L971.0,872 A227.7,58.5 0 0 1 515.5999999999999,872 Z" fill="#fff" stroke="none"/>
<g fill="none" stroke="#000" stroke-width="1.4"><path d="M515.5999999999999,759 A227.7,55 0 0 1 971.0,759" stroke-width="1.6"/><path d="M515.5999999999999,759 V872 M971.0,759 V872" stroke-width="1.3"/><ellipse cx="743.3" cy="872" rx="227.7" ry="58.5" stroke-width="1.3"/></g>
<path d="M515.5999999999999,872 A227.7,58.5 0 0 1 971.0,872" fill="none" stroke="#000" stroke-width="1.9"/>
<ellipse cx="908.6" cy="748.6" rx="1.3" ry="0.9" fill="#000"/>
<g transform="translate(1073,0) scale(1.066,1) translate(-1073,0)"><g transform="translate(1068,1145) scale(0.10334)" fill="none" stroke="#b3121c" stroke-width="38" stroke-linecap="round" stroke-linejoin="round"><path d="M50,230 C75,202 110,166 146,144 L82,266 C77,282 98,284 122,262"/><circle cx="154" cy="82" r="22" fill="#b3121c" stroke="none"/><path d="M176,272 L238,156 M226,180 C256,146 316,136 326,162 L268,274 M316,178 C346,146 406,136 416,162 L368,256 C360,282 384,288 412,264"/><path d="M458,272 L520,156 M508,180 C538,146 598,136 608,162 L550,274 M598,178 C628,146 688,136 698,162 L650,256 C642,282 666,288 694,264"/><path d="M820,176 C806,144 752,142 732,198 C716,248 738,290 772,272 C808,254 830,210 846,154 L814,250 C808,278 830,286 860,262"/><path d="M984,176 C970,144 914,142 894,198 C878,248 900,290 934,272 C972,254 996,210 1014,154 L980,250 C966,292 948,352 924,392 C914,406 908,404 906,396"/><path d="M1014,154 C1034,166 1056,186 1068,216" stroke-width="26"/></g></g></svg>
</body></html>
